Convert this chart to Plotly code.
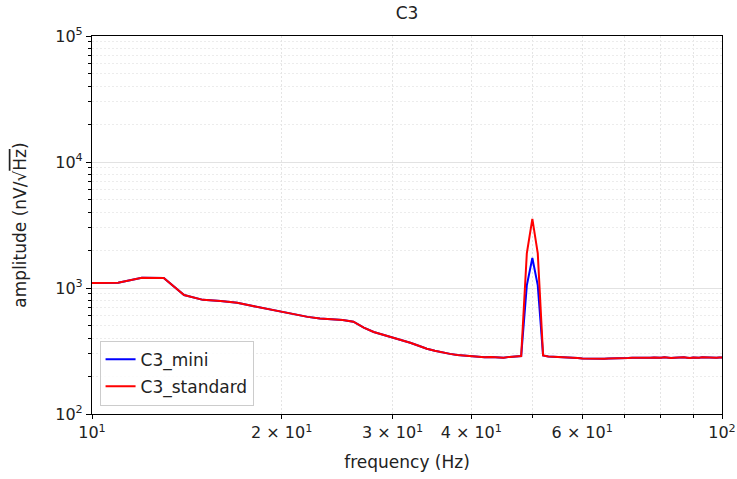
import plotly.graph_objects as go

# Amplitude spectrum of channel C3, 1 Hz bins from 10 to 100 Hz
freq_hz = list(range(10, 101))

c3_mini = [
    1097, 1100, 1205, 1200, 880, 805, 790, 765, 720, 680,   # 10-19
    648, 615, 590, 572, 563, 557, 540, 485, 448, 425,       # 20-29
    405, 390, 368, 348, 330, 318, 308, 300, 294, 290,       # 30-39
    287, 284, 282, 283, 281, 280, 284, 286, 288, 1050,      # 40-49
    1730, 1050, 292, 286, 285, 283, 284, 281, 279, 278,     # 50-59
    276, 275, 275, 274, 275, 275, 276, 276, 277, 278,       # 60-69
    279, 278, 280, 279, 281, 280, 278, 279, 281, 280,       # 70-79
    279, 282, 280, 278, 280, 281, 279, 282, 280, 278,       # 80-89
    281, 280, 279, 282, 281, 280, 282, 281, 280, 281,       # 90-99
    281,                                                    # 100
]

c3_standard = [
    1097, 1100, 1205, 1200, 880, 805, 790, 765, 720, 680,
    648, 615, 590, 572, 563, 557, 540, 485, 448, 425,
    405, 390, 368, 348, 330, 318, 308, 300, 294, 290,
    287, 284, 282, 283, 281, 280, 284, 286, 288, 1880,
    3540, 1880, 292, 286, 285, 283, 284, 281, 279, 278,
    276, 275, 275, 274, 275, 275, 276, 276, 277, 278,
    279, 278, 280, 279, 281, 280, 278, 279, 281, 280,
    279, 282, 280, 278, 280, 281, 279, 282, 280, 278,
    281, 280, 279, 282, 281, 280, 282, 281, 280, 281,
    281,
]

x_tick_vals = [10, 20, 30, 40, 60, 100]
x_tick_text = ["10<sup>1</sup>", "2 × 10<sup>1</sup>", "3 × 10<sup>1</sup>",
               "4 × 10<sup>1</sup>", "6 × 10<sup>1</sup>", "10<sup>2</sup>"]
x_minor_vals = [50, 70, 80, 90]

y_tick_vals = [100, 1000, 10000, 100000]
y_tick_text = ["10<sup>2</sup>", "10<sup>3</sup>", "10<sup>4</sup>", "10<sup>5</sup>"]
y_minor_vals = [m * d for d in (100, 1000, 10000) for m in range(2, 10)]

FONT = "DejaVu Sans"
TXT = "#222222"

fig = go.Figure()
fig.add_trace(go.Scatter(x=freq_hz, y=c3_mini, mode="lines", name="C3_mini",
                         legendgroup="mini",
                         line=dict(color="#0000ff", width=2)))
fig.add_trace(go.Scatter(x=freq_hz, y=c3_standard, mode="lines", name="C3_standard",
                         legendgroup="standard",
                         line=dict(color="#ff0000", width=2)))

fig.update_layout(
    width=737, height=479,
    margin=dict(l=92, r=15, t=36, b=65, autoexpand=False),
    paper_bgcolor="white", plot_bgcolor="white",
    font=dict(family=FONT, size=16, color=TXT),
    title=dict(text="C3", x=0.5, xref="paper", xanchor="center",
               y=1 - 13 / 479, yref="container", yanchor="middle",
               font=dict(size=17, color=TXT)),
    showlegend=True,
    legend=dict(x=0.012, y=0.022, xanchor="left", yanchor="bottom",
                traceorder="grouped", tracegroupgap=2,
                bgcolor="rgba(255,255,255,0.85)", bordercolor="#cccccc", borderwidth=1,
                font=dict(size=17, color=TXT)),
)

fig.update_xaxes(
    type="log", range=[1, 2], automargin=False,
    tickmode="array", tickvals=x_tick_vals, ticktext=x_tick_text,
    ticks="outside", ticklen=4, tickwidth=1, tickcolor="black",
    showline=True, linecolor="black", linewidth=1.2, mirror=True,
    showgrid=True, gridcolor="#e4e4e4", gridwidth=1, griddash="2px,2px",
    zeroline=False,
    tickfont=dict(size=16, color=TXT),
    title=dict(text="frequency (Hz)", standoff=14, font=dict(size=17, color=TXT)),
    minor=dict(tickmode="array", tickvals=x_minor_vals, ticks="outside", ticklen=3,
               tickcolor="black", showgrid=True, gridcolor="#e4e4e4",
               griddash="2px,2px", gridwidth=1),
)

fig.update_yaxes(
    type="log", range=[2, 5], automargin=False,
    tickmode="array", tickvals=y_tick_vals, ticktext=y_tick_text,
    ticks="outside", ticklen=5, tickwidth=1, tickcolor="black",
    showline=True, linecolor="black", linewidth=1.2, mirror=True,
    showgrid=True, gridcolor="#e2e2e2", gridwidth=1,
    zeroline=False,
    tickfont=dict(size=16, color=TXT),
    title=dict(text="amplitude (nV/√<span style='text-decoration:overline'>Hz</span>)",
               standoff=24, font=dict(size=17, color=TXT)),
    minor=dict(tickmode="array", tickvals=y_minor_vals, ticks="outside", ticklen=3,
               tickcolor="black", showgrid=True, gridcolor="#ececec",
               griddash="2px,2px", gridwidth=1),
)

fig.write_html("out.html")
